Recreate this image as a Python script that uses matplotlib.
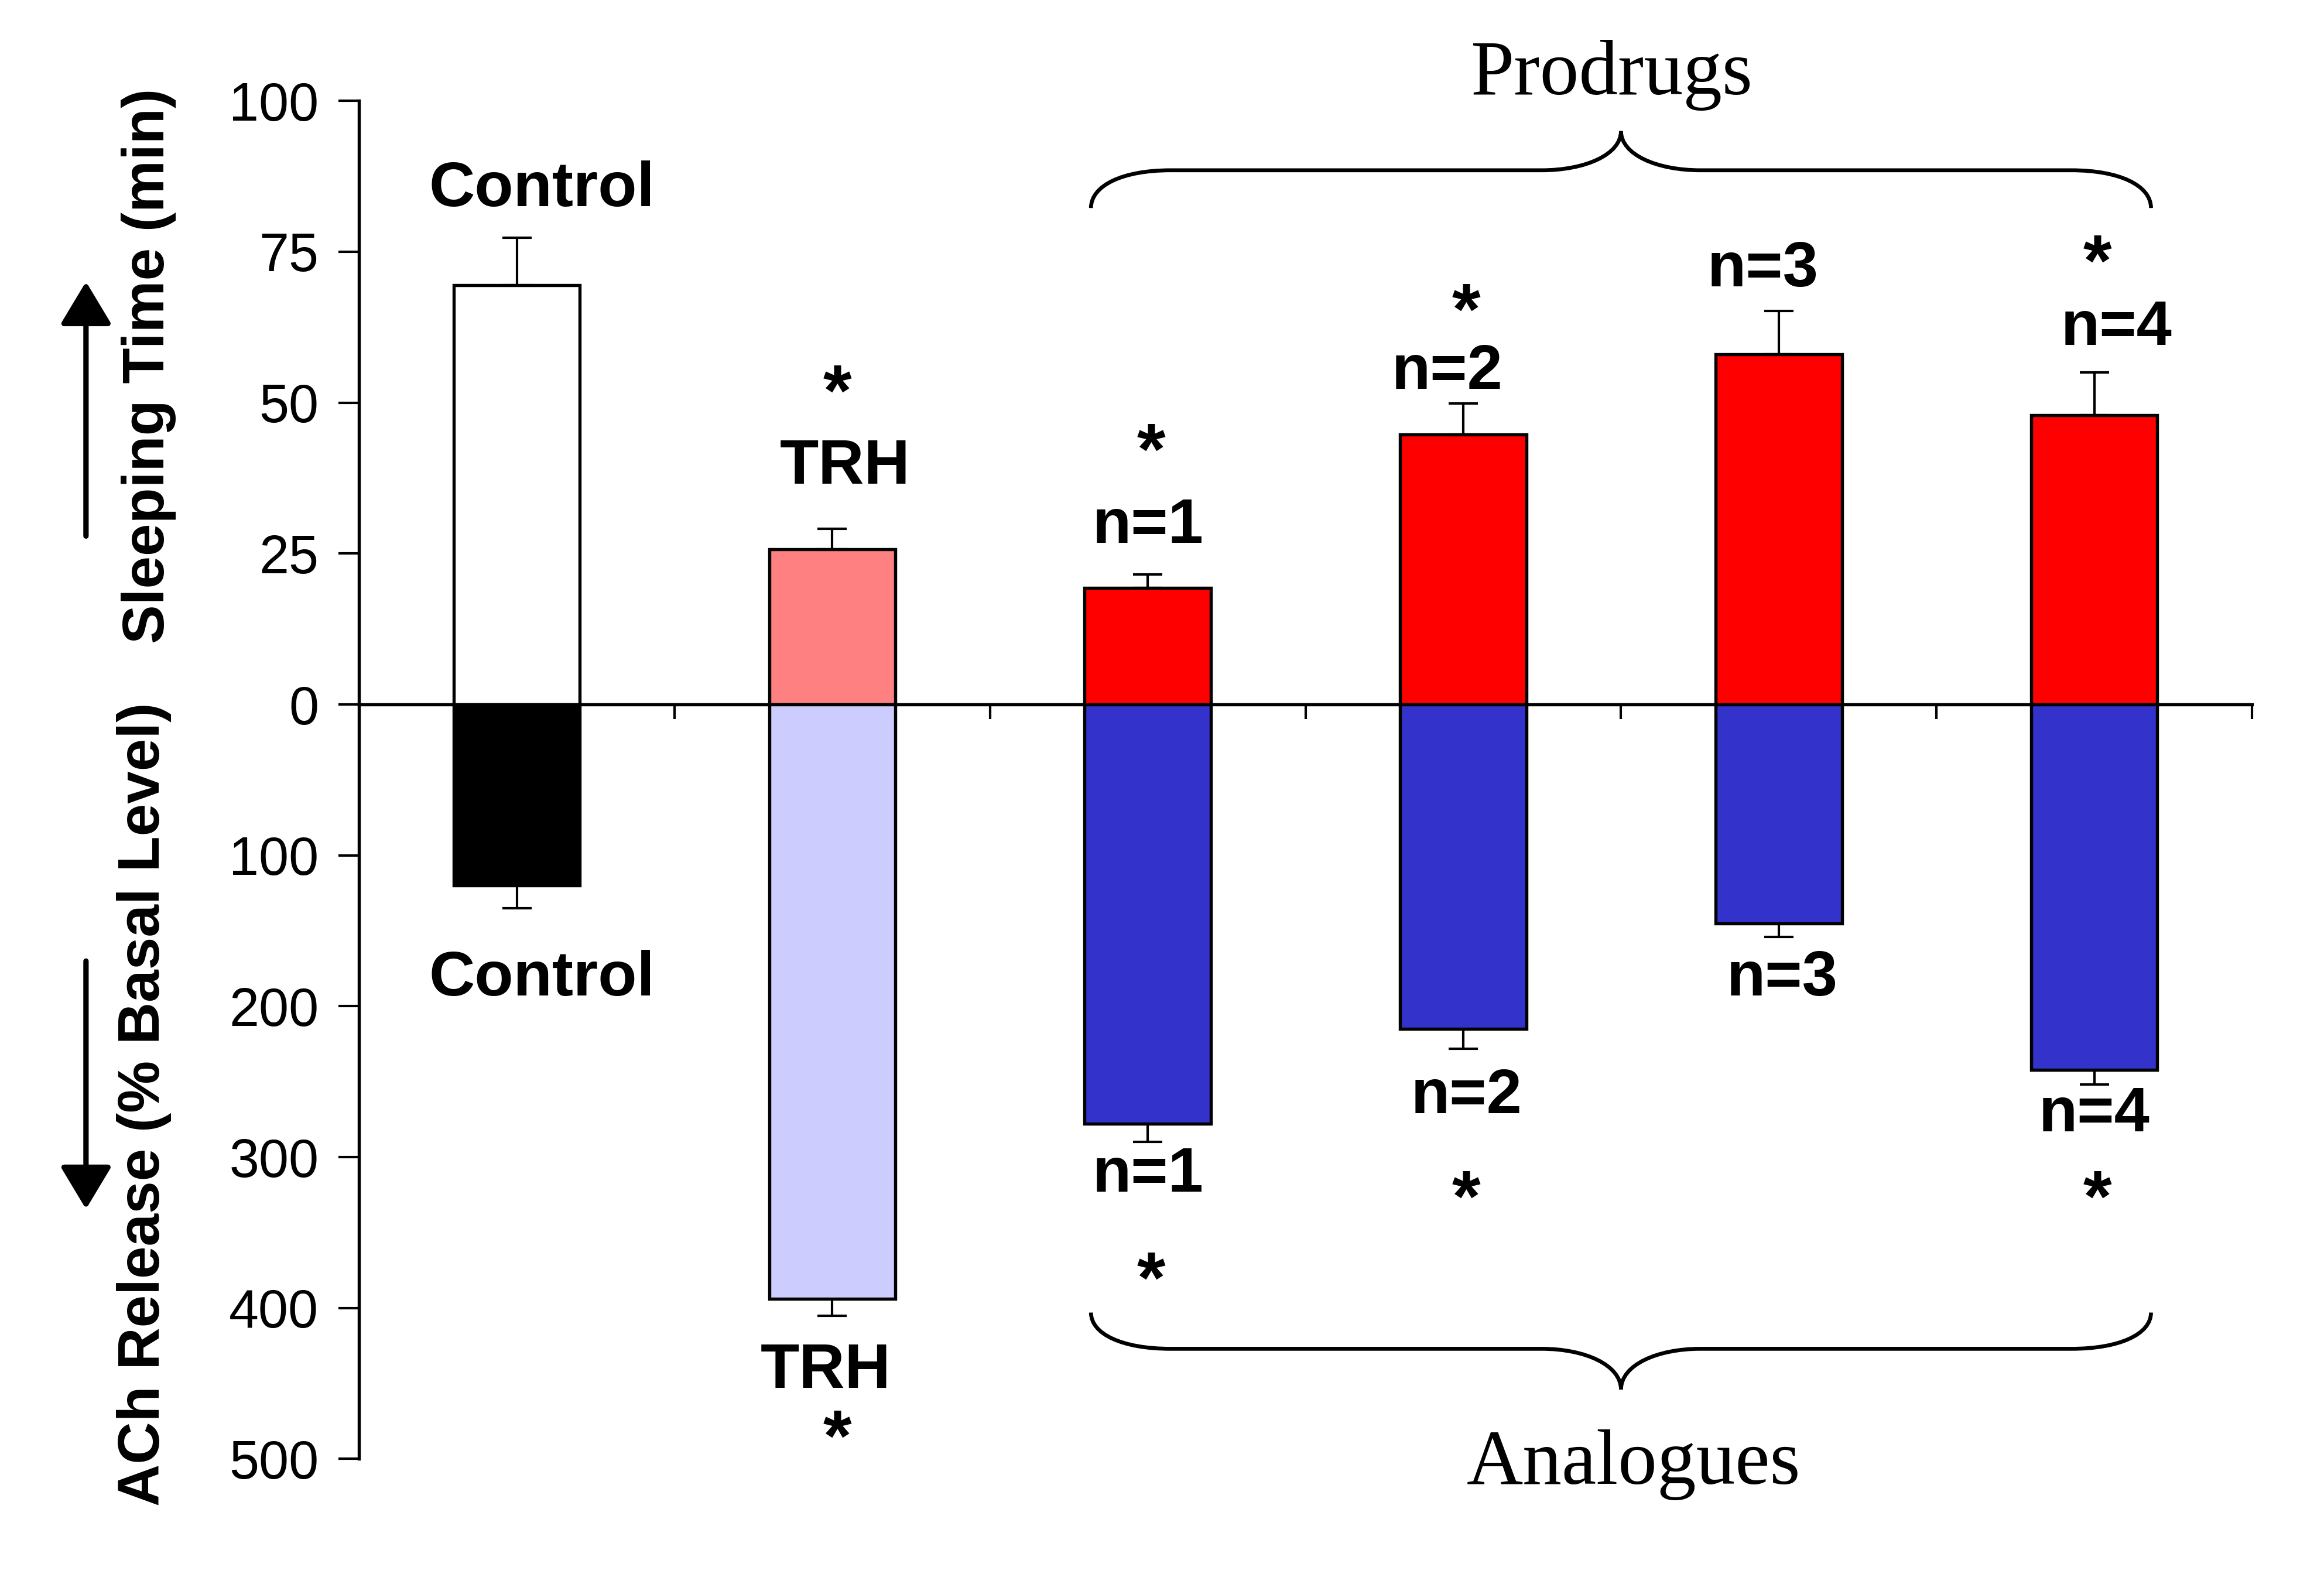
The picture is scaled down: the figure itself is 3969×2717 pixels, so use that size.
import matplotlib
matplotlib.use("Agg")
import matplotlib.pyplot as plt
import numpy as np
from matplotlib.path import Path
from matplotlib.patches import PathPatch

# ---- data ----
groups = ['Control', 'TRH', 'n=1', 'n=2', 'n=3', 'n=4']
sleep_time = [69.5, 25.7, 19.3, 44.7, 58.0, 47.9]      # min
sleep_err = [7.8, 3.4, 2.2, 5.2, 7.2, 7.1]
ach_release = [120, 394, 278, 215, 145, 242]            # % basal level
ach_err = [15, 11, 12, 13, 9, 10]
top_colors = ['#FFFFFF', '#FF8080', '#FF0000', '#FF0000', '#FF0000', '#FF0000']
bottom_colors = ['#000000', '#CCCCFF', '#3333CC', '#3333CC', '#3333CC', '#3333CC']
ytick_pos = [400, 300, 200, 100, 0, -100, -200, -300, -400, -500]
ytick_labels = ['100', '75', '50', '25', '0', '100', '200', '300', '400', '500']
SCALE = 4.0  # 25 min of sleeping time occupies same height as 100 % ACh

SANS = ['Liberation Sans', 'DejaVu Sans']
SERIF = ['Liberation Serif', 'DejaVu Serif']

fig = plt.figure(figsize=(3969 / 300, 2717 / 300), dpi=300)
ax = fig.add_axes([0.1545, 0.083, 0.8145, 0.8536])

x = np.arange(len(groups))
top_vals = np.array(sleep_time) * SCALE
bot_vals = -np.array(ach_release)

ax.bar(x, top_vals, width=0.4, color=top_colors, edgecolor='black', linewidth=1.3, zorder=3)
ax.bar(x, bot_vals, width=0.4, color=bottom_colors, edgecolor='black', linewidth=1.3, zorder=3)

ax.errorbar(x, top_vals, yerr=[np.zeros(len(x)), np.array(sleep_err) * SCALE],
            fmt='none', ecolor='black', elinewidth=1.0, capsize=6, capthick=1.0, zorder=2)
ax.errorbar(x, bot_vals, yerr=[np.array(ach_err), np.zeros(len(x))],
            fmt='none', ecolor='black', elinewidth=1.0, capsize=6, capthick=1.0, zorder=2)

ax.set_xlim(-0.5, 5.5)
ax.set_ylim(-500, 400)
ax.spines['top'].set_visible(False)
ax.spines['right'].set_visible(False)
ax.spines['bottom'].set_position(('data', 0))
ax.spines['left'].set_linewidth(1.3)
ax.spines['bottom'].set_linewidth(1.3)
ax.set_xticks(np.arange(0.5, 6.0, 1.0))
ax.set_xticklabels([])
ax.tick_params(axis='x', direction='out', length=6, width=1.0)
ax.set_yticks(ytick_pos)
ax.set_yticklabels(ytick_labels, fontsize=22, family=SANS)
ax.tick_params(axis='y', direction='out', length=8.5, width=1.0, pad=8)

bold = dict(family=SANS, fontweight='bold', fontsize=26, ha='center', va='center')
star = dict(family=SANS, fontweight='bold', fontsize=30, ha='center', va='center')

# labels above / below bars
ax.text(0.08, 341, 'Control', **bold)
ax.text(0.08, -182, 'Control', **bold)
ax.text(1.04, 157, 'TRH', **bold)
ax.text(0.98, -442, 'TRH', **bold)
ax.text(2.0, 118, 'n=1', **bold)
ax.text(2.0, -312, 'n=1', **bold)
ax.text(2.95, 220, 'n=2', **bold)
ax.text(3.01, -260, 'n=2', **bold)
ax.text(3.95, 288, 'n=3', **bold)
ax.text(4.01, -182, 'n=3', **bold)
ax.text(5.07, 249, 'n=4', **bold)
ax.text(5.0, -272, 'n=4', **bold)

# significance asterisks
for sx, sy in [(1.016, 204), (1.016, -489), (2.01, 165), (2.01, -384),
               (3.01, 258), (3.01, -330), (5.01, 290), (5.01, -330)]:
    ax.text(sx, sy, '*', clip_on=False, **star)


def brace(ax, x0, x1, y_end, y_h, y_tip, frac=0.15):
    xm = 0.5 * (x0 + x1)
    c = frac * (xm - x0)
    verts = [
        (x0, y_end),
        (x0, y_end + 0.6 * (y_h - y_end)), (x0 + 0.4 * c, y_h), (x0 + c, y_h),
        (xm - c, y_h),
        (xm - 0.45 * c, y_h), (xm, y_h + 0.4 * (y_tip - y_h)), (xm, y_tip),
        (xm, y_h + 0.4 * (y_tip - y_h)), (xm + 0.45 * c, y_h), (xm + c, y_h),
        (x1 - c, y_h),
        (x1 - 0.4 * c, y_h), (x1, y_end + 0.6 * (y_h - y_end)), (x1, y_end),
    ]
    codes = [Path.MOVETO,
             Path.CURVE4, Path.CURVE4, Path.CURVE4,
             Path.LINETO,
             Path.CURVE4, Path.CURVE4, Path.CURVE4,
             Path.CURVE4, Path.CURVE4, Path.CURVE4,
             Path.LINETO,
             Path.CURVE4, Path.CURVE4, Path.CURVE4]
    ax.add_patch(PathPatch(Path(verts, codes), fill=False, lw=1.6,
                           edgecolor='black', clip_on=False, zorder=4))


brace(ax, 1.82, 5.18, 329, 354, 380)
brace(ax, 1.82, 5.18, -403, -427, -454)
ax.text(3.47, 417, 'Prodrugs', family=SERIF, fontsize=32, ha='center', va='center', clip_on=False)
ax.text(3.54, -504, 'Analogues', family=SERIF, fontsize=32, ha='center', va='center', clip_on=False)

# y-axis labels with arrows
fig.text(0.064, 0.770, 'Sleeping Time (min)', rotation=90, family=SANS, fontweight='bold',
         fontsize=24, ha='center', va='center')
fig.text(0.062, 0.306, 'ACh Release (% Basal Level)', rotation=90, family=SANS, fontweight='bold',
         fontsize=24, ha='center', va='center')
fig.add_artist(matplotlib.patches.FancyArrowPatch((0.037, 0.660), (0.037, 0.826),
               transform=fig.transFigure, arrowstyle='-|>,head_length=0.5,head_width=0.3',
               mutation_scale=30, lw=2.2, color='black'))
fig.add_artist(matplotlib.patches.FancyArrowPatch((0.037, 0.399), (0.037, 0.237),
               transform=fig.transFigure, arrowstyle='-|>,head_length=0.5,head_width=0.3',
               mutation_scale=30, lw=2.2, color='black'))

fig.savefig('out.png', dpi=300, facecolor='white')
